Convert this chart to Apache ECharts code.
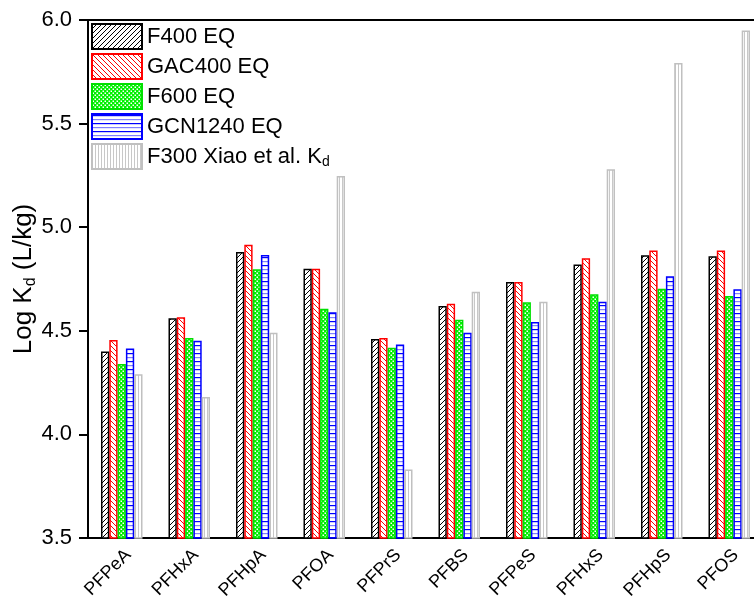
<!DOCTYPE html>
<html><head><meta charset="utf-8">
<script src="https://cdn.jsdelivr.net/npm/echarts@6/dist/echarts.min.js"></script>
<style>html,body{margin:0;padding:0;background:#fff}#c{width:754px;height:596px}</style>
</head><body><div id="c"></div>
<script>
const categories = ['PFPeA','PFHxA','PFHpA','PFOA','PFPrS','PFBS','PFPeS','PFHxS','PFHpS','PFOS'];
const f400    = [4.40, 4.56, 4.88, 4.80, 4.46, 4.62, 4.735, 4.82, 4.865, 4.86];
const gac400  = [4.455, 4.565, 4.915, 4.80, 4.465, 4.63, 4.735, 4.85, 4.888, 4.888];
const f600    = [4.34, 4.465, 4.797, 4.607, 4.418, 4.553, 4.638, 4.676, 4.703, 4.668];
const gcn1240 = [4.415, 4.452, 4.866, 4.59, 4.434, 4.49, 4.543, 4.64, 4.763, 4.70];
const f300    = [4.29, 4.18, 4.49, 5.247, 3.83, 4.688, 4.64, 5.28, 5.792, 5.949];
const yTicks = [3.5, 4.0, 4.5, 5.0, 5.5, 6.0];

function tile(w, h, bg, draw) {
  const c = document.createElement('canvas');
  c.width = w; c.height = h;
  const x = c.getContext('2d');
  x.fillStyle = bg; x.fillRect(0, 0, w, h);
  draw(x, w, h);
  return { image: c, repeat: 'repeat' };
}
const patF400 = tile(5, 5, '#fff', (x, s) => {
  x.strokeStyle = '#000'; x.lineWidth = 1;
  x.beginPath();
  for (const k of [-s, 0, s]) { x.moveTo(k, s); x.lineTo(k + s, 0); }
  x.stroke();
});
const patGAC = tile(5, 5, '#fff', (x, s) => {
  x.strokeStyle = '#ff0000'; x.lineWidth = 1;
  x.beginPath();
  for (const k of [-s, 0, s]) { x.moveTo(k, 0); x.lineTo(k + s, s); }
  x.stroke();
});
const patF600 = tile(4, 4, '#00f000', (x) => {
  x.fillStyle = '#ffffff';
  x.fillRect(0.5, 0.5, 1.5, 1.5);
  x.fillRect(2.5, 2.5, 1.5, 1.5);
});
const patGCN = tile(4, 8, '#fff', (x, w) => {
  x.fillStyle = '#0000ff'; x.fillRect(0, 1, w, 1.2);
  x.fillStyle = '#8080ff'; x.fillRect(0, 5, w, 1.2);
});
const patF300 = tile(3, 3, '#fff', (x, w, h) => {
  x.fillStyle = '#c8c8c8'; x.fillRect(0, 0, 1, h);
});

const font = 'Liberation Sans, Arial, sans-serif';
function bar(name, data, pat, border) {
  return {
    name, type: 'bar', data, barWidth: 8.3, barGap: '0%',
    itemStyle: { color: pat, borderColor: border, borderWidth: 1.5 },
    emphasis: { disabled: true }
  };
}

const chart = echarts.init(document.getElementById('c'));
chart.setOption({
  animation: false,
  textStyle: { fontFamily: font },
  grid: { left: 88, right: -9, top: 20, bottom: 58, outerBoundsMode: 'none', containLabel: false,
    show: true, borderColor: '#000', borderWidth: 2, backgroundColor: 'transparent' },
  legend: {
    orient: 'vertical', left: 91, top: 23, padding: 0,
    itemWidth: 50, itemHeight: 25, itemGap: 3, itemTextGap: 6,
    icon: 'rect',
    textStyle: { fontSize: 22, color: '#000', fontFamily: font,
      rich: { a: { fontSize: 22, color: '#000', fontFamily: font }, sub: { fontSize: 14, color: '#000', fontFamily: font, padding: [12, 0, 0, 0] } } },
    formatter: n => n === 'F300 Xiao et al. Kd' ? '{a|F300 Xiao et al. K}{sub|d}' : n
  },
  xAxis: {
    type: 'category', data: categories,
    axisLine: { lineStyle: { color: '#000', width: 2 } },
    axisTick: { alignWithLabel: true, length: 8, lineStyle: { color: '#000', width: 2 } },
    axisLabel: { rotate: 45, fontSize: 18, color: '#000', margin: 8, verticalAlign: 'top', fontFamily: font }
  },
  yAxis: {
    type: 'value', min: yTicks[0], max: yTicks[yTicks.length - 1], interval: 0.5,
    name: 'Log K{sub|d} (L/kg)', nameLocation: 'middle', nameGap: 64, nameRotate: 90,
    nameMoveOverlap: false,
    nameTextStyle: { fontSize: 26, color: '#000', fontFamily: font, verticalAlign: 'middle',
      rich: { sub: { fontSize: 16, color: '#000', fontFamily: font, padding: [14, 0, 0, 0] } } },
    axisLine: { show: true, lineStyle: { color: '#000', width: 2 } },
    axisTick: { show: true, length: 9, lineStyle: { color: '#000', width: 2 } },
    axisLabel: { fontSize: 22, color: '#000', margin: 16, fontFamily: font, formatter: v => v.toFixed(1) },
    splitLine: { show: false }
  },
  series: [
    bar('F400 EQ', f400, patF400, '#000000'),
    bar('GAC400 EQ', gac400, patGAC, '#ff0000'),
    bar('F600 EQ', f600, patF600, '#00e000'),
    bar('GCN1240 EQ', gcn1240, patGCN, '#0000ff'),
    bar('F300 Xiao et al. Kd', f300, patF300, '#c0c0c0')
  ]
});
</script></body></html>
